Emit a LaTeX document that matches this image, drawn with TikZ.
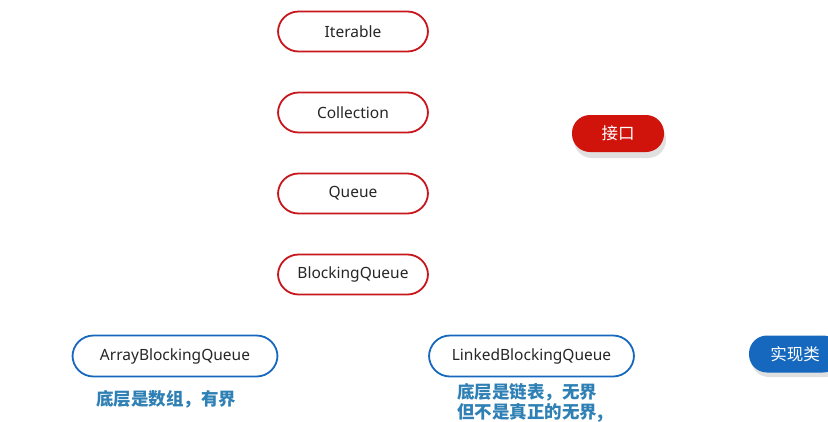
\documentclass[tikz,border=0pt]{standalone}
\usepackage{fontspec}
\setmainfont{Noto Sans}
\newfontfamily\cjk{Noto Sans CJK SC}
\definecolor{ifred}{HTML}{C8171C}
\definecolor{fillred}{HTML}{D0140C}
\definecolor{implblue}{HTML}{1668BE}
\definecolor{noteblue}{HTML}{2F80B4}
\tikzset{
  ifbox/.style={draw=ifred, line width=1.8pt, rounded corners=20.5pt, minimum width=150pt, minimum height=40pt, fill=white, font=\fontsize{15.5}{17}\selectfont, text=black!85},
  implbox/.style={draw=implblue, line width=1.8pt, rounded corners=21pt, minimum width=205pt, minimum height=41pt, fill=white, font=\fontsize{15.5}{17}\selectfont, text=black!85},
  tagbox/.style={rounded corners=18pt, minimum width=92pt, minimum height=37pt, text=white, font=\cjk\fontsize{16.5}{18}\selectfont},
  note/.style={text=noteblue, font=\cjk\bfseries\fontsize{17.5}{20}\selectfont, align=left, inner sep=0pt},
}
\begin{document}
\begin{tikzpicture}[x=1pt,y=-1pt]
\useasboundingbox (0,0) rectangle (828,421);
\clip (0,0) rectangle (828,421);
\node[ifbox] (iter) at (353,31.5) {Iterable};
\node[ifbox] (coll) at (353,112.5) {Collection};
\node[ifbox] (queue) at (353,193.5) {Queue};
\node[ifbox] (bq) at (353,274.5) {BlockingQueue};
\fill[black!12, rounded corners=18pt] (574,121) rectangle (666,158);
\node[tagbox, fill=fillred] (iface) at (618,133.5) {接口};
\node[implbox] (abq) at (175,356) {ArrayBlockingQueue};
\node[implbox] (lbq) at (531.5,356) {LinkedBlockingQueue};
\fill[black!12, rounded corners=18pt] (751,341) rectangle (843,377);
\node[tagbox, fill=implblue] (impl) at (795,354) {实现类};
\node[note, anchor=west] (n1) at (96,399) {底层是数组，有界};
\node[note, anchor=north west] (n2) at (457,383) {底层是链表，无界\\但不是真正的无界,};
\end{tikzpicture}
\end{document}
